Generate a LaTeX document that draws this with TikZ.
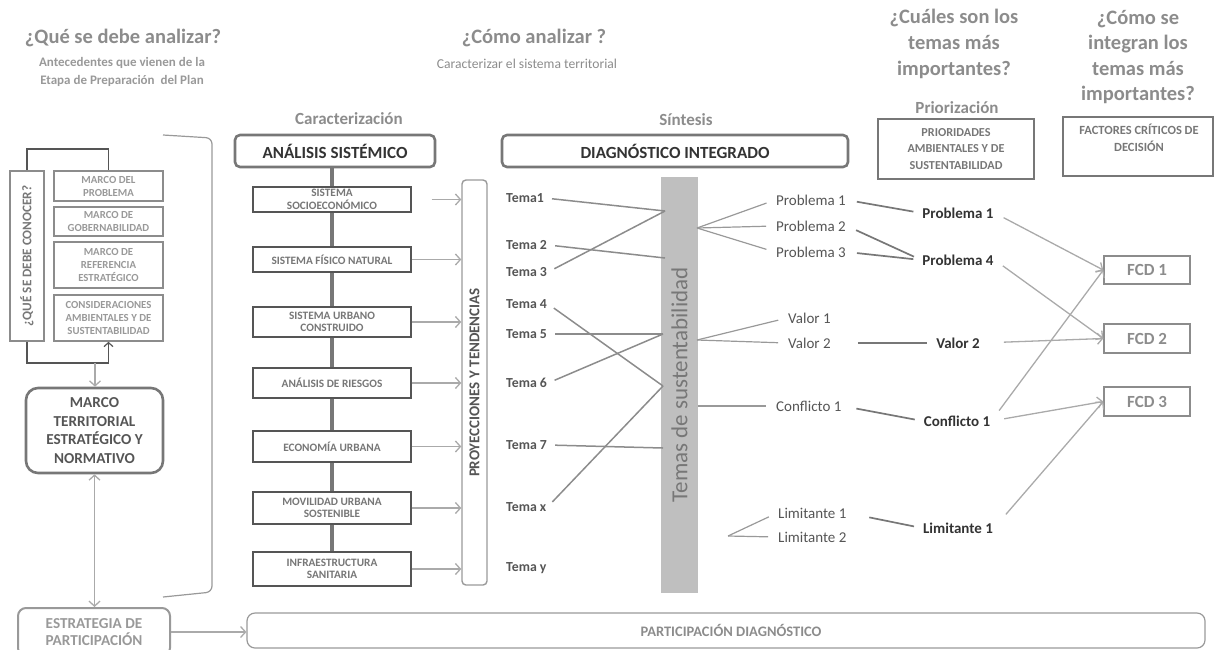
\documentclass[tikz,border=0pt]{standalone}
\usepackage{fontspec}
\setmainfont{Carlito}
\usetikzlibrary{arrows.meta,calc,backgrounds}
\definecolor{hdr}{HTML}{8C8C8C}
\definecolor{dk}{HTML}{333333}
\definecolor{md}{HTML}{555555}
\definecolor{lg}{HTML}{777777}
\definecolor{vl}{HTML}{999999}
\definecolor{ln}{HTML}{AAAAAA}
\definecolor{barc}{HTML}{BFBFBF}
\newcommand{\fz}[2]{\fontsize{#1}{#2}\selectfont}
\begin{document}
\begin{tikzpicture}[x=1pt,y=-1pt,
  >={Straight Barb[length=5pt,width=11pt]},
  hdrtext/.style={text=hdr, font=\fz{20.5}{26}\bfseries, align=center, inner sep=0pt},
  subtext/.style={text=vl, font=\fz{13}{18}\bfseries, align=center, inner sep=0pt},
  sectitle/.style={text=hdr, font=\fz{17}{20}\bfseries, inner sep=0pt},
  bigbox/.style={draw=lg, line width=2.6pt, rounded corners=5pt, text=dk, font=\fz{17}{20}\bfseries, inner sep=0pt},
  mbox/.style={draw=hdr, line width=1.6pt, minimum width=109pt, text=vl, font=\fz{10.8}{13}\bfseries, align=center, inner sep=0pt},
  sbox/.style={draw=md, line width=1.4pt, fill=white, minimum width=158pt, text=lg, font=\fz{11.3}{12.5}\bfseries, align=center, inner sep=0pt},
  rottext/.style={rotate=90, inner sep=0pt},
  loopline/.style={draw=md, line width=1.2pt},
  arr/.style={draw=ln, line width=1.3pt, ->},
  spine/.style={draw=lg, line width=3.5pt},
  tema/.style={anchor=west, text=md, font=\fz{13.8}{15}\bfseries, inner sep=1pt},
  midlab/.style={anchor=west, text=md, font=\fz{15}{16}, inner sep=1pt},
  prilab/.style={text=dk, font=\fz{15}{16}\bfseries, inner sep=1pt},
  tline/.style={draw=hdr, line width=1.5pt},
  rline/.style={draw=vl, line width=1.2pt},
  pline/.style={draw=lg, line width=1.7pt},
  fcd/.style={draw=hdr, line width=1.4pt, minimum width=86pt, text=hdr, font=\fz{17}{18}\bfseries, inner sep=0pt}
]
\path[use as bounding box] (0,0) rectangle (1214,649);
\clip (0,0) rectangle (1214,649);

% ---------- headers ----------
\node[hdrtext] (h1) at (123,38) {¿Qué se debe analizar?};
\node[subtext] (h1s) at (122,72) {Antecedentes que vienen de la\\Etapa de Preparación\ \ del Plan};
\node[hdrtext] (h2) at (534,38) {¿Cómo analizar ?};
\node[text=hdr, font=\fz{13.6}{15}, inner sep=0pt] (h2s) at (527,64) {Caracterizar el sistema territorial};
\node[hdrtext] (h3) at (954,44) {¿Cuáles son los\\temas más\\importantes?};
\node[hdrtext, font=\fz{20.5}{25.5}\bfseries] (h4) at (1138,57) {¿Cómo se\\integran los\\temas más\\importantes?};
\node[sectitle] (car) at (349,119) {Caracterización};
\node[sectitle] (sin) at (686,120) {Síntesis};
\node[sectitle] (pri) at (957,108) {Priorización};

% ---------- left column ----------
\draw[draw=vl, line width=1.2pt, rounded corners=6pt] (163,135) -- (212,138) -- (212,592) -- (163,597);

\node[draw=hdr, line width=1.6pt, minimum width=34pt, minimum height=170pt, inner sep=0pt] (que) at (27,256) {};
\node[rottext, text=lg, font=\fz{13.2}{14}\bfseries] (quet) at (que.center) {¿QUÉ SE DEBE CONOCER?};
\node[mbox, minimum height=30pt] (mp) at (108.5,186) {MARCO DEL\\PROBLEMA};
\node[mbox, minimum height=29pt] (mg) at (108.5,221.5) {MARCO DE\\GOBERNABILIDAD};
\node[mbox, minimum height=46pt] (mr) at (108.5,265) {MARCO DE\\REFERENCIA\\ESTRATÉGICO};
\node[mbox, minimum height=46pt] (mc) at (108.5,318) {CONSIDERACIONES\\AMBIENTALES Y DE\\SUSTENTABILIDAD};

\coordinate (lt) at (27,149);
\coordinate (lb) at (27,363);
\coordinate (lbm) at (95,363);
\draw[loopline] (que.north) -- (que.north |- lt) -- (mp.north |- lt) -- (mp.north);
\draw[loopline, ->, >={Straight Barb[length=4pt,width=9pt]}] (que.south) -- (que.south |- lb) -- (mc.south |- lb) -- (mc.south);

\node[draw=lg, line width=2.6pt, rounded corners=12pt, minimum width=137pt, minimum height=85pt, text=md, font=\fz{15.2}{18.5}\bfseries, align=center, inner sep=0pt] (mt) at (94.5,430.5) {MARCO\\TERRITORIAL\\ESTRATÉGICO Y\\NORMATIVO};
\draw[arr] (lbm) -- (lbm |- mt.north);

\node[draw=vl, line width=2pt, rounded corners=8pt, minimum width=152pt, minimum height=48pt, text=vl, font=\fz{15.2}{17}\bfseries, align=center, inner sep=0pt] (est) at (94,632) {ESTRATEGIA DE\\PARTICIPACIÓN};
\draw[arr, <->] (mt.south) -- (mt.south |- est.north);

\node[draw=vl, line width=1.2pt, rounded corners=8pt, minimum width=958pt, minimum height=35pt, inner sep=0pt] (pd) at (726,630.5) {};
\node[text=hdr, font=\fz{14.5}{15}\bfseries, inner sep=0pt] (pdt) at (731,630) {PARTICIPACIÓN DIAGNÓSTICO};
\draw[arr] (est.east) -- (est.east -| pd.west);

% ---------- caracterizacion ----------
\node[bigbox, minimum width=200pt, minimum height=32pt] (anal) at (335,151) {ANÁLISIS SISTÉMICO};
\node[bigbox, minimum width=346pt, minimum height=32pt] (diag) at (675,151) {DIAGNÓSTICO INTEGRADO};

\node[sbox, minimum height=25pt] (s1) at (332,199.5) {SISTEMA\\SOCIOECONÓMICO};
\node[sbox, minimum height=25pt] (s2) at (332,259.5) {SISTEMA FÍSICO NATURAL};
\node[sbox, minimum height=30pt] (s3) at (332,322) {SISTEMA URBANO\\CONSTRUIDO};
\node[sbox, minimum height=30pt] (s4) at (332,383) {ANÁLISIS DE RIESGOS};
\node[sbox, minimum height=31pt] (s5) at (332,446.5) {ECONOMÍA URBANA};
\node[sbox, minimum height=32pt] (s6) at (332,508) {MOVILIDAD URBANA\\SOSTENIBLE};
\node[sbox, minimum height=34pt] (s7) at (332,569) {INFRAESTRUCTURA\\SANITARIA};
\begin{scope}[on background layer]
  \draw[spine] (s1.north |- anal.south) -- (s7.north);
\end{scope}

\node[draw=vl, line width=1.4pt, rounded corners=4pt, minimum width=25pt, minimum height=405pt, inner sep=0pt] (proy) at (474.5,382.5) {};
\node[rottext, text=md, font=\fz{15}{16}\bfseries] (proyt) at (proy.center) {PROYECCIONES Y TENDENCIAS};

\draw[arr, shorten <=20pt] (s1.east) -- (s1.east -| proy.west);
\foreach \s in {s2,s3,s4,s5,s6,s7} {
  \draw[arr] (\s.east) -- (\s.east -| proy.west);
}

% ---------- sintesis ----------
\node[fill=barc, minimum width=37pt, minimum height=416pt, inner sep=0pt] (bar) at (679.5,385) {};
\node[rottext, text=lg, font=\fz{23}{24}] (bart) at (bar.center) {Temas de sustentabilidad};

\node[tema] (t1) at (505,198) {Tema1};
\node[tema] (t2) at (505,245) {Tema 2};
\node[tema] (t3) at (505,272) {Tema 3};
\node[tema] (t4) at (505,304) {Tema 4};
\node[tema] (t5) at (505,334) {Tema 5};
\node[tema] (t6) at (505,383) {Tema 6};
\node[tema] (t7) at (505,445) {Tema 7};
\node[tema] (tx) at (505,507) {Tema x};
\node[tema] (ty) at (505,568) {Tema y};

\coordinate (b1) at (665,211);
\coordinate (b2) at (665,258);
\coordinate (b3) at (663,334);
\coordinate (b4) at (663,386);
\coordinate (b5) at (663,448);
\draw[tline, shorten <=7pt] (t1.east) -- (b1);
\draw[tline, shorten <=7pt] (t3.east) -- (b1);
\draw[tline, shorten <=7pt] (t2.east) -- (b2);
\draw[tline, shorten <=7pt] (t5.east) -- (b3);
\draw[tline, shorten <=7pt] (t6.east) -- (b3);
\draw[tline, shorten <=7pt] (t4.east) -- (b4);
\draw[tline, shorten <=7pt] (tx.east) -- (b4);
\draw[tline, shorten <=7pt] (t7.east) -- (b5);

\node[midlab] (pm1) at (775,200) {Problema 1};
\node[midlab] (pm2) at (775,226) {Problema 2};
\node[midlab] (pm3) at (775,252) {Problema 3};
\node[midlab] (va1) at (787,318) {Valor 1};
\node[midlab] (va2) at (787,343) {Valor 2};
\node[midlab] (co1) at (775,406) {Conflicto 1};
\node[midlab] (li1) at (777,513) {Limitante 1};
\node[midlab] (li2) at (777,537) {Limitante 2};

\coordinate (r1) at (697,228);
\coordinate (r2) at (697,340);
\coordinate (r3) at (698,406);
\coordinate (r4) at (728,536);
\foreach \m in {pm1,pm2,pm3} { \draw[rline, shorten >=9pt] (r1) -- (\m.west); }
\foreach \m in {va1,va2} { \draw[rline, shorten >=9pt] (r2) -- (\m.west); }
\draw[rline, shorten >=9pt] (r3) -- (co1.west);
\foreach \m in {li1,li2} { \draw[rline, shorten >=9pt] (r4) -- (\m.west); }

% ---------- priorizacion ----------
\node[draw=lg, line width=1.3pt, minimum width=156pt, minimum height=60pt, text=lg, font=\fz{12.2}{16.5}\bfseries, align=center, inner sep=0pt] (prb) at (956,149) {PRIORIDADES\\AMBIENTALES Y DE\\SUSTENTABILIDAD};
\node[draw=lg, line width=1.3pt, minimum width=150pt, minimum height=59pt, inner sep=0pt] (fab) at (1138,146.5) {};
\node[text=lg, font=\fz{12.5}{17}\bfseries, align=center, anchor=north, inner sep=0pt] (fat) at (1139,124) {FACTORES CRÍTICOS DE\\DECISIÓN};

\node[prilab] (p1) at (958,213) {Problema 1};
\node[prilab] (p4) at (958,260) {Problema 4};
\node[prilab] (v2) at (958,343) {Valor 2};
\node[prilab] (c1) at (957,421) {Conflicto 1};
\node[prilab] (l1) at (958,528) {Limitante 1};

\draw[pline, shorten <=10pt, shorten >=8pt] (pm1.east) -- (p1.west);
\draw[pline, shorten <=10pt, shorten >=8pt] (pm2.east) -- (p4.west);
\draw[pline, shorten <=10pt, shorten >=8pt] (pm3.east) -- (p4.west);
\draw[pline, shorten <=26pt, shorten >=8pt] (va2.east) -- (v2.west);
\draw[pline, shorten <=14pt, shorten >=8pt] (co1.east) -- (c1.west);
\draw[pline, shorten <=22pt, shorten >=8pt] (li1.east) -- (l1.west);

% ---------- FCD ----------
\node[fcd, minimum height=28pt] (fc1) at (1147,270) {FCD 1};
\node[fcd, minimum height=29pt] (fc2) at (1147,338.5) {FCD 2};
\node[fcd, minimum height=29pt] (fc3) at (1147,401.5) {FCD 3};

\draw[arr, shorten <=10pt] (p1.east) -- (fc1.west);
\draw[arr, shorten <=10pt] (p4.east) -- (fc2.west);
\draw[arr, shorten <=23pt] (v2.east) -- (fc2.west);
\draw[arr, shorten <=13pt] (c1.east) -- (fc1.west);
\draw[arr, shorten <=13pt] (c1.east) -- (fc3.west);
\draw[arr, shorten <=18pt] (l1.east) -- (fc3.west);
\end{tikzpicture}
\end{document}
